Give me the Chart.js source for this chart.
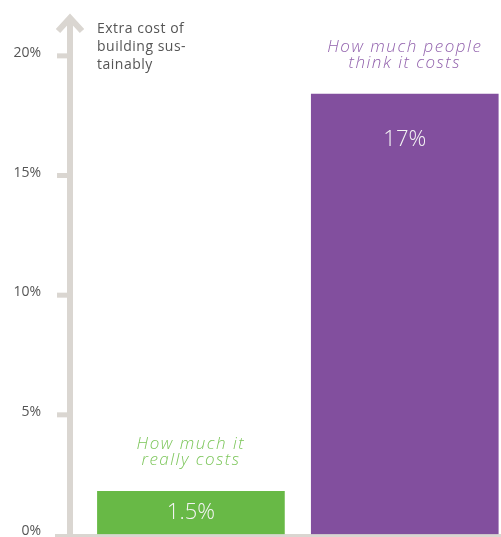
<!DOCTYPE html>
<html>
<head>
<meta charset="utf-8">
<script src="https://cdn.jsdelivr.net/npm/chart.js@4.4.0/dist/chart.umd.min.js"></script>
<style>
  html, body { margin: 0; padding: 0; background: #fff; overflow: hidden; }
  #wrap { position: relative; width: 501px; height: 537px; }
</style>
</head>
<body>
<div id="wrap"><canvas id="chart"></canvas></div>
<script>
// ===== 데이터 =====
const categories = ["How much it really costs", "How much people think it costs"];
const noteLines = [["How much it", "really costs"], ["How much people", "think it costs"]];
const barHeights = [1.8, 18.4];          // 그림에 그려진 막대 높이
const valueLabels = ["1.5%", "17%"];
const tickValues = [0, 5, 10, 15, 20];
const axisTitle = ["Extra cost of", "building sus-", "tainably"];

const barColors = ["#68b946", "#824f9e"];
const noteColors = ["#7cc65a", "#9262ad"];
const axisColor = "#dad6d1";
const FONT = "'Open Sans', 'DejaVu Sans', sans-serif";

// ===== 축, 화살표, 주석 그리기 =====
const decor = {
  id: "decor",
  beforeDatasetsDraw(chart) {
    const { ctx, chartArea } = chart;
    const y = chart.scales.y;
    const ax = chartArea.left - 14;
    const base = y.getPixelForValue(0);
    ctx.save();
    ctx.strokeStyle = axisColor;
    // 바닥선
    ctx.lineWidth = 3;
    ctx.beginPath();
    ctx.moveTo(55, base + 1);
    ctx.lineTo(chart.width, base + 1);
    ctx.stroke();
    // 세로축
    ctx.lineWidth = 6;
    ctx.beginPath();
    ctx.moveTo(ax, base);
    ctx.lineTo(ax, 17);
    ctx.stroke();
    // 화살표
    ctx.lineJoin = "miter";
    ctx.beginPath();
    ctx.moveTo(ax - 12, 31);
    ctx.lineTo(ax, 18);
    ctx.lineTo(ax + 12, 31);
    ctx.stroke();
    // 눈금
    ctx.lineWidth = 5;
    tickValues.forEach((v) => {
      if (v === 0) return;
      const py = y.getPixelForValue(v);
      ctx.beginPath();
      ctx.moveTo(57, py);
      ctx.lineTo(ax, py);
      ctx.stroke();
    });
    // 축 제목
    ctx.fillStyle = "#555";
    ctx.font = "14px " + FONT;
    ctx.letterSpacing = "0.5px";
    ctx.textAlign = "left";
    ctx.textBaseline = "middle";
    axisTitle.forEach((t, i) => ctx.fillText(t, 97, 29 + i * 18));
    ctx.restore();
  },
  afterDatasetsDraw(chart) {
    const { ctx } = chart;
    const meta = chart.getDatasetMeta(0);
    ctx.save();
    ctx.textAlign = "center";
    ctx.textBaseline = "middle";
    meta.data.forEach((bar, i) => {
      // 막대 안 값
      ctx.fillStyle = "#f4f4f4";
      ctx.letterSpacing = "0px";
      ctx.font = "300 22px " + FONT;
      const vy = Math.min(bar.y + 46, (bar.y + bar.base) / 2);
      ctx.fillText(valueLabels[i], bar.x, vy);
      // 막대 위 설명
      ctx.fillStyle = noteColors[i];
      ctx.letterSpacing = "1.5px";
      ctx.font = "italic 300 17px " + FONT;
      noteLines[i].forEach((t, k) => ctx.fillText(t, bar.x, bar.y - 47 + k * 16));
    });
    ctx.restore();
  }
};

new Chart(document.getElementById("chart"), {
  type: "bar",
  data: {
    labels: categories,
    datasets: [{
      data: barHeights.map((v, i) => ({ x: i, y: v })),
      backgroundColor: barColors,
      barThickness: 187
    }]
  },
  options: {
    responsive: true, maintainAspectRatio: false, animation: false,
    layout: { padding: { top: 8, bottom: 2.5, left: 0, right: 0 } },
    plugins: { legend: { display: false }, tooltip: { enabled: false } },
    scales: {
      x: { type: "linear", display: false, offset: false, min: -0.5, max: 1.45 },
      y: {
        min: 0, max: 22,
        afterFit: (s) => { s.width = 84; s.paddingTop = 0; s.paddingBottom = 0; },
        afterBuildTicks: (s) => { s.ticks = tickValues.map((v) => ({ value: v })); },
        grid: { display: true, drawOnChartArea: false, drawTicks: true, tickLength: 40, tickColor: "rgba(0,0,0,0)" },
        border: { display: false },
        ticks: { padding: 3, labelOffset: -3, color: "#555", font: { family: FONT, size: 14 }, callback: (v) => v + "%" }
      }
    }
  },
  plugins: [decor]
});
</script>
</body>
</html>
